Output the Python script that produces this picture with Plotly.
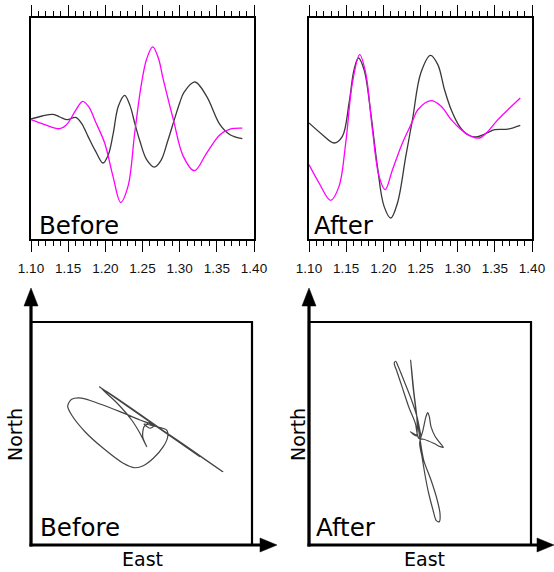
import plotly.graph_objects as go

# ---- Waveforms (time in s, amplitude in arbitrary units) ----
t_blk_before = [1.1000, 1.1152, 1.1296, 1.1390, 1.1489, 1.1601, 1.1682, 1.1767, 1.1870, 1.1969,
                1.2040, 1.2103, 1.2175, 1.2260, 1.2332, 1.2395, 1.2466, 1.2556, 1.2659, 1.2749,
                1.2838, 1.2928, 1.3000, 1.3058, 1.3206, 1.3363, 1.3542, 1.3677, 1.3843]
blk_before = [15.7, 18.4, 19.9, 17.5, 15.1, 17.2, 11.5, 0.0, -13.6, -24.1,
              -16.6, 1.5, 27.2, 37.1, 27.8, 12.1, -4.5, -21.1, -27.8, -21.7,
              -4.5, 15.1, 30.2, 39.8, 49.2, 36.2, 10.6, 1.5, -2.1]

t_mag_before = [1.1000, 1.1184, 1.1386, 1.1475, 1.1601, 1.1695, 1.1780, 1.1865, 1.1991, 1.2103,
                1.2206, 1.2305, 1.2395, 1.2484, 1.2556, 1.2637, 1.2713, 1.2780, 1.2915, 1.3049,
                1.3197, 1.3363, 1.3542, 1.3677, 1.3843]
mag_before = [15.1, 10.6, 6.9, 10.3, 23.5, 31.7, 26.5, 13.6, -6.0, -36.2,
              -59.7, -45.3, 3.0, 46.8, 70.0, 80.9, 70.9, 51.3, 15.1, -18.1,
              -31.1, -15.1, 1.5, 6.6, 7.5]

t_blk_after = [1.1000, 1.1180, 1.1337, 1.1449, 1.1539, 1.1606, 1.1665, 1.1741, 1.1831, 1.1920,
               1.2010, 1.2100, 1.2190, 1.2302, 1.2392, 1.2504, 1.2634, 1.2733, 1.2823, 1.2913,
               1.3025, 1.3137, 1.3250, 1.3362, 1.3496, 1.3676, 1.3842]
blk_after = [12.1, 1.5, -6.0, 0.0, 30.2, 60.3, 70.9, 60.3, 21.1, -27.2,
             -63.4, -73.9, -60.3, -18.1, 15.1, 57.3, 73.3, 64.9, 42.2, 24.1,
             9.1, 1.5, -0.6, 2.1, 6.0, 6.6, 10.0]

t_mag_after = [1.1000, 1.1135, 1.1292, 1.1404, 1.1494, 1.1584, 1.1682, 1.1763, 1.1853, 1.1943,
               1.2024, 1.2123, 1.2257, 1.2392, 1.2464, 1.2643, 1.2778, 1.2913, 1.3047, 1.3182,
               1.3294, 1.3407, 1.3541, 1.3676, 1.3842]
mag_after = [-25.6, -42.2, -57.9, -45.3, -6.0, 48.3, 73.9, 57.3, 6.0, -36.2,
             -48.3, -30.2, -6.0, 13.6, 24.1, 32.3, 27.2, 15.1, 6.0, 0.0,
             -1.5, 4.5, 15.1, 24.1, 34.7]

time_ticks = [1.10, 1.15, 1.20, 1.25, 1.30, 1.35, 1.40]
time_labels = ["1.10", "1.15", "1.20", "1.25", "1.30", "1.35", "1.40"]

# ---- Particle motion (horizontal plane) ----
east_before = [4.7, 9.2, 11.3, 7.7, 2.3, 13.8, 22.8, 23.7, 19.7, 10.7, 1.6, -5.9, -16.5, -34.6,
               -51.1, -63.2, -66.8, -63.2, -54.1, -37.6, -19.5, -1.4, 13.8, 73.5, -38.2, 52.9,
               -36.9, -22.4, -8.9, -1.4, 4.7, 1.1, 2.3, 6.2]
north_before = [9.1, 9.7, 7.0, 4.7, 8.5, 6.1, 3.1, -2.9, -11.8, -22.2, -28.9, -30.7, -26.7, -13.3,
                1.6, 16.6, 24.7, 30.7, 31.8, 26.5, 19.6, 12.1, 6.1, -34.3, 42.0, -20.8,
                41.1, 27.6, 12.1, 0.2, -11.8, -2.9, 6.1, 8.5]

east_after = [-1.2, -8.7, -3.3, -2.7, -5.7, -8.4, -6.3, -3.3, -0.3, 3.3, 9.9, 14.7, 18.0, 17.4,
              14.7, 11.7, 7.8, 4.8, 1.8, -0.3, 2.7, 5.4, 6.9, 8.4, 9.9, 13.8, 18.3, 21.0, 18.3,
              12.3, 3.3, -1.2, -4.2, -10.2, -16.2, -20.7, -23.2, -21.9, -19.8, -14.7, -8.7,
              -2.7, 0.9]
north_after = [-2.9, 1.6, -2.2, 12.1, 39.0, 65.9, 42.0, 18.1, -2.9, -23.8, -41.7, -56.7, -71.6,
               -79.1, -78.2, -68.6, -53.6, -38.8, -20.8, -8.8, 3.1, 15.1, 18.7, 15.1, 6.1, -2.9,
               -8.8, -12.4, -11.8, -8.8, -5.2, -4.3, 9.1, 24.0, 42.0, 55.4, 63.0, 64.8, 60.5,
               48.0, 33.0, 15.1, -2.9]

W, H = 554, 572


def fx(px):
    return px / W


def fy(py):
    return 1 - py / H


BLACK_TRACE = "#383838"
MAGENTA = "#ff00ff"
PM_COLOR = "#444444"

fig = go.Figure()

# waveform panels
fig.add_trace(go.Scatter(x=t_blk_before, y=blk_before, mode="lines", line=dict(color=BLACK_TRACE, width=1.3, shape="spline", smoothing=1), xaxis="x", yaxis="y"))
fig.add_trace(go.Scatter(x=t_mag_before, y=mag_before, mode="lines", line=dict(color=MAGENTA, width=1.3, shape="spline", smoothing=1), xaxis="x", yaxis="y"))
fig.add_trace(go.Scatter(x=t_blk_after, y=blk_after, mode="lines", line=dict(color=BLACK_TRACE, width=1.3, shape="spline", smoothing=1), xaxis="x2", yaxis="y2"))
fig.add_trace(go.Scatter(x=t_mag_after, y=mag_after, mode="lines", line=dict(color=MAGENTA, width=1.3, shape="spline", smoothing=1), xaxis="x2", yaxis="y2"))

# particle-motion panels
fig.add_trace(go.Scatter(x=east_before, y=north_before, mode="lines", line=dict(color=PM_COLOR, width=1.2, shape="spline", smoothing=0.8), xaxis="x3", yaxis="y3"))
fig.add_trace(go.Scatter(x=east_after, y=north_after, mode="lines", line=dict(color=PM_COLOR, width=1.2, shape="spline", smoothing=0.8), xaxis="x4", yaxis="y4"))

tick_font = dict(family="Liberation Sans, Arial, sans-serif", size=13.5, color="#111111")


def time_axis(x0, x1, anchor):
    return dict(
        domain=[fx(x0), fx(x1)], anchor=anchor, range=[1.10, 1.40],
        showline=True, linecolor="black", linewidth=2.2, mirror="allticks",
        ticks="outside", ticklen=11, tickwidth=1.3, tickcolor="black",
        tickmode="array", tickvals=time_ticks, ticktext=time_labels,
        tickfont=tick_font, ticklabelstandoff=5, automargin=False,
        minor=dict(tickmode="linear", tick0=1.10, dtick=0.01, ticks="outside",
                   ticklen=5, tickwidth=1, tickcolor="black", showgrid=False),
        showgrid=False, zeroline=False, fixedrange=True,
    )


def amp_axis(anchor):
    return dict(
        domain=[fy(239), fy(18)], anchor=anchor, range=[-92.9, 107.1],
        showline=True, linecolor="black", linewidth=2.2, mirror=True, automargin=False,
        ticks="", showticklabels=False, showgrid=False, zeroline=False, fixedrange=True,
    )


def pm_axis(d0, d1, anchor):
    return dict(domain=[d0, d1], anchor=anchor, range=[-100, 100], visible=False,
                automargin=False, showgrid=False, zeroline=False, fixedrange=True)


shapes = []
annotations = []
label_font = dict(family="DejaVu Sans, sans-serif", color="black")


def pm_frame(xa, ya, left, right, top, bottom, arrow_tip_x):
    # thin box
    shapes.append(dict(type="rect", xref=f"{xa} domain", yref=f"{ya} domain", x0=0, x1=1, y0=0, y1=1,
                       line=dict(color="black", width=2.2), layer="above"))
    # north axis with arrow
    shapes.append(dict(type="line", xref="paper", yref="paper", x0=fx(left), x1=fx(left),
                       y0=fy(bottom + 1.5), y1=fy(300), line=dict(color="black", width=3.2)))
    shapes.append(dict(type="path", xref="paper", yref="paper",
                       path=f"M {fx(left)} {fy(288)} L {fx(left - 7)} {fy(306)} L {fx(left + 7)} {fy(306)} Z",
                       fillcolor="black", line=dict(color="black", width=0.5)))
    # east axis with arrow
    shapes.append(dict(type="line", xref="paper", yref="paper", x0=fx(left - 1.5), x1=fx(arrow_tip_x - 12),
                       y0=fy(bottom), y1=fy(bottom), line=dict(color="black", width=3.2)))
    shapes.append(dict(type="path", xref="paper", yref="paper",
                       path=f"M {fx(arrow_tip_x)} {fy(bottom)} L {fx(arrow_tip_x - 17)} {fy(bottom - 7)} L {fx(arrow_tip_x - 17)} {fy(bottom + 7)} Z",
                       fillcolor="black", line=dict(color="black", width=0.5)))


pm_frame("x3", "y3", 31, 252, 322, 545, 277)
pm_frame("x4", "y4", 309, 531, 322, 545, 554)


def label(text, px, py, size, xanchor="left", angle=0):
    annotations.append(dict(text=text, xref="paper", yref="paper", x=fx(px), y=fy(py),
                            xanchor=xanchor, yanchor="middle", showarrow=False, borderpad=0,
                            textangle=angle, font=dict(size=size, **label_font)))


label("Before", 38, 225, 24.5)
label("After", 313, 225, 24.5)
label("Before", 39, 527, 24.5)
label("After", 315, 527, 24.5)
label("North", 15, 435, 19, xanchor="center", angle=-90)
label("North", 298, 435, 19, xanchor="center", angle=-90)
label("East", 142.5, 559, 19, xanchor="center")
label("East", 424.5, 559, 19, xanchor="center")

fig.update_layout(
    width=W, height=H, margin=dict(l=0, r=0, t=0, b=0, autoexpand=False),
    paper_bgcolor="white", plot_bgcolor="white", showlegend=False,
    xaxis=time_axis(31, 254, "y"), yaxis=amp_axis("x"),
    xaxis2=time_axis(309, 532, "y2"), yaxis2=amp_axis("x2"),
    xaxis3=pm_axis(fx(31), fx(252), "y3"), yaxis3=pm_axis(fy(545), fy(322), "x3"),
    xaxis4=pm_axis(fx(309), fx(531), "y4"), yaxis4=pm_axis(fy(545), fy(322), "x4"),
    shapes=shapes, annotations=annotations,
)

fig.write_html("out.html")
